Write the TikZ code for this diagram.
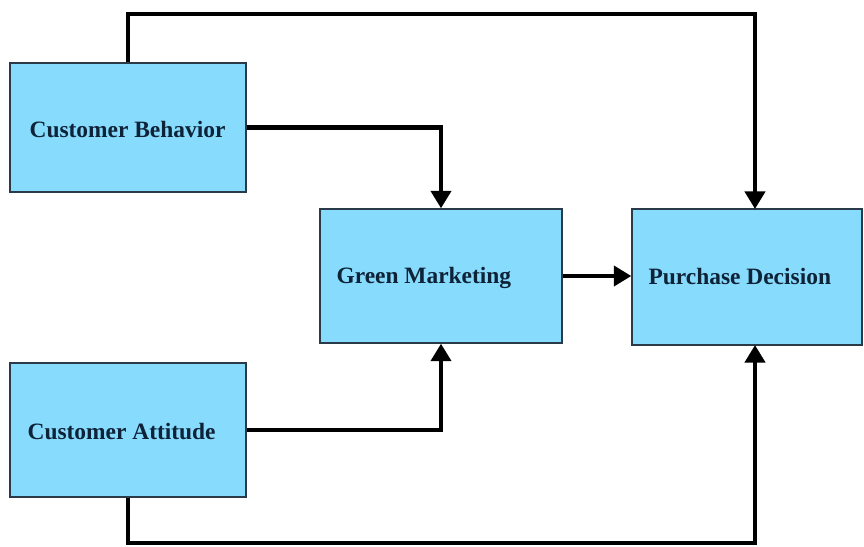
\documentclass[tikz,border=0pt]{standalone}
\usepackage{fontspec}
\setmainfont{Liberation Serif}
\usepackage{xcolor}
\usepackage{tikz}
\usetikzlibrary{arrows.meta, positioning, calc}
\definecolor{skyfill}{HTML}{87DBFC}
\definecolor{boxline}{HTML}{2B3A48}
\definecolor{inkblue}{HTML}{0E2238}

\begin{document}
\begin{tikzpicture}[
    x=0.03cm, y=-0.03cm,
    % 1. cajas del modelo
    factor/.style={
        draw=boxline, line width=1.1pt, fill=skyfill,
        inner sep=0pt
    },
    % 2. texto de las cajas
    caption/.style={
        font=\fontsize{20}{24}\selectfont\bfseries\color{inkblue},
        anchor=west, inner sep=0pt
    },
    % 3. flechas
    arrow/.style={
        -{Triangle[length=15pt, width=17pt]},
        line width=3.9pt, color=black
    }
]
    \useasboundingbox (0,0) rectangle (864,546);

    % --- cajas ---
    \node[factor, minimum width=7.08cm, minimum height=3.87cm] (behavior) at (128,127.5) {};
    \node[factor, minimum width=7.26cm, minimum height=4.02cm] (green)    at (441,276) {};
    \node[factor, minimum width=6.90cm, minimum height=4.08cm] (decision) at (747,277) {};
    \node[factor, minimum width=7.08cm, minimum height=4.02cm] (attitude) at (128,430) {};

    % --- textos ---
    \node[caption] (behaviortxt) at ($(behavior.west)+(20,2)$) {Customer Behavior};
    \node[caption] (greentxt)    at ($(green.west)+(17,2)$)    {Green Marketing};
    \node[caption] (decisiontxt) at ($(decision.west)+(17,0)$) {Purchase Decision};
    \node[caption] (attitudetxt) at ($(attitude.west)+(18,2)$) {Customer Attitude};

    % --- puntos de quiebre ---
    \coordinate (topleft)  at (128,14);
    \coordinate (topright) at (755,14);
    \coordinate (botleft)  at (128,543);
    \coordinate (botright) at (755,543);
    \coordinate (pdtop)    at (755,209);
    \coordinate (pdbot)    at (755,345);

    % --- conexiones ---
    \draw[arrow] (behavior.north) -- (topleft) -- (topright) -- (pdtop);
    \draw[arrow] (behavior.east) -| (green.north);
    \draw[arrow] (green.east) -- (green.east -| decision.west);
    \draw[arrow] (attitude.east) -| (green.south);
    \draw[arrow] (attitude.south) -- (botleft) -- (botright) -- (pdbot);

\end{tikzpicture}
\end{document}
